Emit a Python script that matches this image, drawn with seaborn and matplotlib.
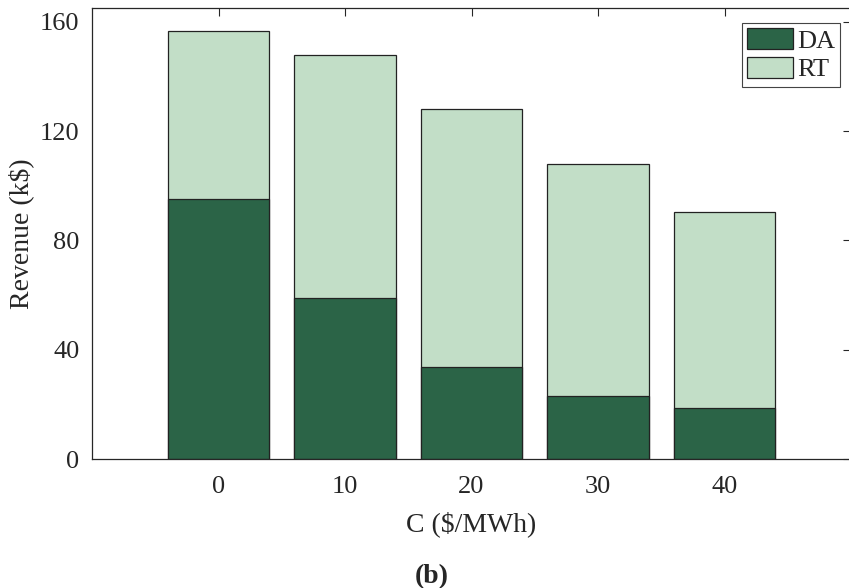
import matplotlib
matplotlib.use("Agg")
import matplotlib.pyplot as plt
import seaborn as sns
import pandas as pd

# values
c_labels = ["0", "10", "20", "30", "40"]
da = [95.2, 59.0, 33.7, 23.1, 18.7]
rt = [61.5, 88.9, 94.5, 84.9, 71.7]
total = [a + b for a, b in zip(da, rt)]

dark = "#2b6447"
light = "#c2dec7"

sns.set_style("white")
plt.rcParams['font.family'] = ['Liberation Serif', 'DejaVu Serif']

df = pd.DataFrame({"C": c_labels, "DA": da, "RT": rt, "Total": total})

fig = plt.figure(figsize=(8.49, 5.88), dpi=100)
ax = fig.add_axes([92 / 849, 129 / 588, 759 / 849, 451 / 588])

sns.barplot(data=df, x="C", y="Total", color=light, width=0.8,
            edgecolor="#222222", linewidth=0.9, saturation=1, ax=ax, label="RT")
sns.barplot(data=df, x="C", y="DA", color=dark, width=0.8,
            edgecolor="#222222", linewidth=0.9, saturation=1, ax=ax, label="DA")

ax.set_xlim(-1, 5)
ax.set_ylim(0, 165)
ax.set_yticks([0, 40, 80, 120, 160])
ax.tick_params(direction="in", length=6, width=0.8, top=True, right=True,
               labelsize=19, colors="#262626")
ax.tick_params(axis="x", pad=12)
ax.tick_params(axis="y", pad=9)
for s in ax.spines.values():
    s.set_color("#262626")
    s.set_linewidth(0.9)

ax.set_xlabel("C (\\$/MWh)", fontsize=20, color="#262626", labelpad=10)
ax.set_ylabel("Revenue (k\\$)", fontsize=20, color="#262626", labelpad=4)

h, l = ax.get_legend_handles_labels()
order = [l.index("DA"), l.index("RT")]
leg = ax.legend([h[i] for i in order], [l[i] for i in order], loc="upper right",
                bbox_to_anchor=(0.986, 0.967), fontsize=19, fancybox=False,
                framealpha=1, edgecolor="#444444", handlelength=1.75,
                handleheight=0.85, handletextpad=0.15, borderpad=0.2,
                labelspacing=0.15, borderaxespad=0)
leg.get_frame().set_linewidth(0.8)

fig.text(432 / 849, 1 - 577 / 588, "(b)", ha="center", va="center",
         fontsize=20, fontweight="bold", color="#262626")

fig.savefig("out.png", dpi=100)
